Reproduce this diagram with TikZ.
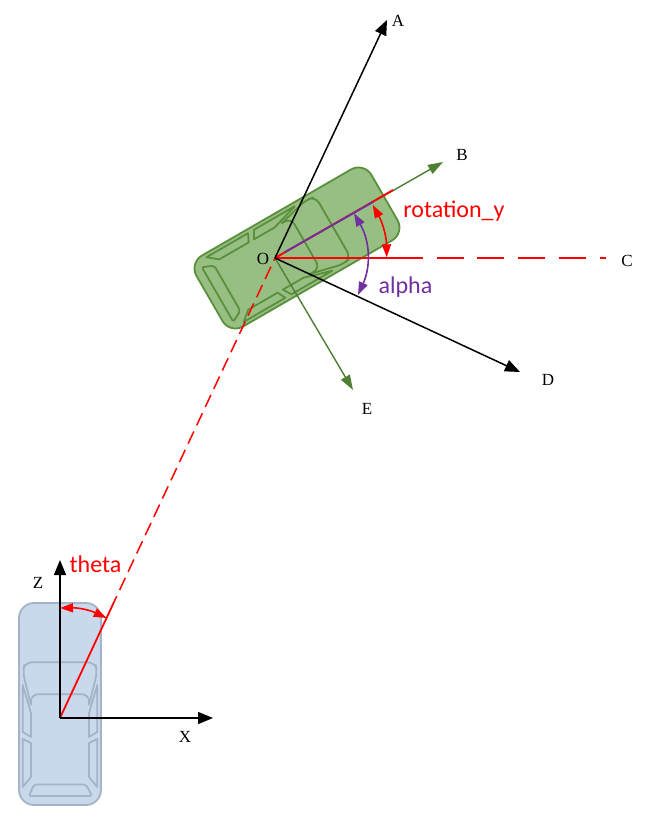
\documentclass[tikz,border=0pt]{standalone}
\usepackage{fontspec}
\usepackage{xcolor}
\usetikzlibrary{arrows.meta}
\setmainfont{Liberation Serif}
\newfontfamily\anglefont{Carlito}
\definecolor{bluefill}{HTML}{CAD8EC}
\definecolor{blueline}{HTML}{A3B3C8}
\definecolor{greenfill}{HTML}{97BF83}
\definecolor{greenline}{HTML}{5A8F3C}
\definecolor{greenaxis}{HTML}{4F7F33}
\definecolor{purpleangle}{HTML}{7030A0}
\tikzset{
    pics/car/.style 2 args={code={
        \draw[draw=#2, fill=#1, line width=1.8pt, rounded corners=15pt] (-41,-101) rectangle (41,101);
        \begin{scope}[draw=#2, line width=1.8pt, line join=round]
            %
            \draw[rounded corners=7pt] (-29,1) -- (-37.3,-32.3) -- (-35,-41.7) -- (35,-41.7) -- (37.3,-32.3) -- (29,1);
            \draw[rounded corners=7pt] (-29,1) -- (-29,-9.7) -- (29,-9.7) -- (29,1);
            %
            \draw (-37.3,-19) -- (-29,9) -- (-29,33) -- (-37.3,28) -- cycle;
            \draw (37.3,-19) -- (29,9) -- (29,33) -- (37.3,28) -- cycle;
            \draw (-37.3,35) -- (-29,39) -- (-29,73) -- (-37.3,83) -- cycle;
            \draw (37.3,35) -- (29,39) -- (29,73) -- (37.3,83) -- cycle;
            \draw[rounded corners=2pt] (-31,92) -- (-26,80.5) -- (26,80.5) -- (32,92) -- cycle;
        \end{scope}
    }},
    axis/.style = {-{Triangle[length=15pt, width=12pt]}, line width=1.5pt, black},
    thin axis/.style = {-{Triangle[length=15pt, width=10pt]}, line width=1.4pt, greenaxis},
    redline/.style = {red, line width=1.8pt},
    redangle/.style = {{Triangle[length=13pt, width=9pt]}-{Triangle[length=13pt, width=9pt]}, red, line width=1.6pt},
    purpleline/.style = {purpleangle, line width=1.8pt},
    purplearc/.style = {{Triangle[length=13pt, width=9pt]}-{Triangle[length=13pt, width=9pt]}, purpleangle, line width=1.6pt},
    letter/.style = {font=\fontsize{17}{17}\selectfont, inner sep=0pt},
    anglename/.style = {font=\anglefont\fontsize{24}{24}\selectfont, inner sep=0pt}
}
\begin{document}
\begin{tikzpicture}[x=1pt, y=-1pt]
    \useasboundingbox (0,0) rectangle (652,822);
    \pic at (60,704) {car={bluefill}{blueline}};
    \pic[rotate=-60] at (297,248) {car={greenfill}{greenline}};

    \coordinate (o) at (275,258);
    \coordinate (p) at (60,718);
    \coordinate (a) at (387,20);
    \coordinate (b) at (443,162);
    \coordinate (b1) at (393,190);
    \coordinate (b2) at (373,202);
    \coordinate (b3) at (285,252);
    \coordinate (c) at (606,258);
    \coordinate (c1) at (396,258);
    \coordinate (c2) at (410,258);
    \coordinate (d) at (520,372);
    \coordinate (e) at (353,390);
    \coordinate (q) at (114,602);
    \coordinate (z) at (60,560);
    \coordinate (x) at (213,718);

    \draw[thin axis] (o) -- (b);
    \draw[thin axis] (o) -- (e);
    \draw[redline] (o) -- (b1);
    \draw[purpleline] (b3) -- (b2);
    \draw[redline] (o) -- (c2);
    \draw[red, line width=1.4pt, dash pattern=on 27pt off 13.7pt] (c1) -- (c);
    \draw[red, line width=1.5pt, dash pattern=on 13.5pt off 6.7pt, dash phase=10.5pt] (o) -- (q);
    \draw[redline] (q) -- (p);
    \draw[axis] (o) -- (a);
    \draw[axis] (o) -- (d);
    \draw[axis] (p) -- (z);
    \draw[axis] (p) -- (x);

    %
    \coordinate (ry1) at (372.7,205);
    \coordinate (ry2) at (386.7,257.3);
    \coordinate (al1) at (354,213.3);
    \coordinate (al2) at (358,295);
    \coordinate (th1) at (60,608);
    \coordinate (th2) at (106.7,618);
    \draw[redangle] (ry1) to[bend left=14] (ry2);
    \draw[purplearc] (al1) to[bend left=27] (al2);
    \draw[redangle] (th1) to[bend left=13] (th2);

    \node[letter] (lo) at (263,258.5) {O};
    \node[letter] (la) at (398,21) {A};
    \node[letter] (lb) at (462,155) {B};
    \node[letter] (lc) at (627,260.5) {C};
    \node[letter] (ld) at (548,380) {D};
    \node[letter] (le) at (367,409) {E};
    \node[letter] (lz) at (38,582.5) {Z};
    \node[letter] (lx) at (185,736.5) {X};
    \node[anglename, red] (ltheta) at (95.5,564) {theta};
    \node[anglename, red] (lry) at (454,211) {rotation\_y};
    \node[anglename, purpleangle] (lalpha) at (405.5,287) {alpha};
\end{tikzpicture}
\end{document}
